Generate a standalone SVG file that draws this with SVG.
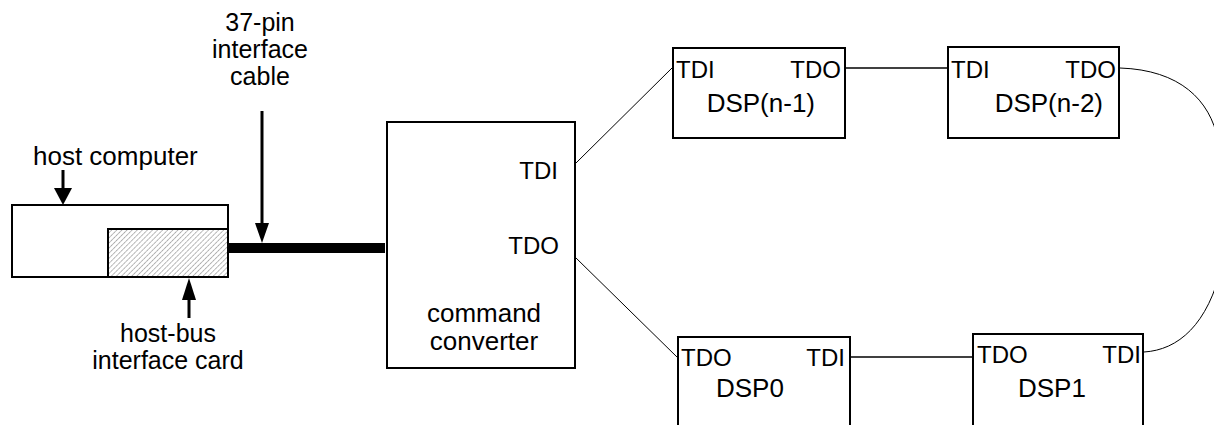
<svg xmlns="http://www.w3.org/2000/svg" width="1214" height="425" viewBox="0 0 1214 425">
  <style>
    .box { fill: #fff; stroke: #000; stroke-width: 2; }
    .lbl { font-family: "Liberation Sans", Arial, sans-serif; font-size: 25px; fill: #000; }
    .big { font-size: 26px; }
    .pin { font-family: "Liberation Sans", Arial, sans-serif; font-size: 24px; fill: #000; }
    .mid { text-anchor: middle; }
    .end { text-anchor: end; }
    .wire { fill: none; stroke: #000; stroke-width: 1; }
    .wire2 { fill: none; stroke: #000; stroke-width: 1.6; }
    .shaft { stroke: #000; stroke-width: 3; }
  </style>
  <defs>
    <pattern id="hatch" width="3.6" height="3.6" patternUnits="userSpaceOnUse" patternTransform="rotate(45)">
      <rect width="3.6" height="3.6" fill="#fff"/>
      <line x1="0" y1="0" x2="0" y2="3.6" stroke="#666" stroke-width="1" stroke-dasharray="2.4,0.6"/>
    </pattern>
  </defs>

  <!-- host computer with plug-in card -->
  <g id="host-computer">
    <rect class="box" x="12" y="205" width="216" height="72"/>
    <text class="lbl big" x="33" y="165">host computer</text>
    <line class="shaft" x1="63" y1="170" x2="63" y2="190"/>
    <polygon points="54,188 72,188 63,205" fill="#000"/>
  </g>

  <g id="host-bus-card">
    <rect x="108" y="229" width="120" height="48" fill="url(#hatch)" stroke="#000" stroke-width="2"/>
    <line class="shaft" x1="189" y1="298" x2="189" y2="318"/>
    <polygon points="182,300 196,300 189,278" fill="#000"/>
    <text class="lbl mid" x="168" y="342">host-bus</text>
    <text class="lbl mid" x="168" y="369">interface card</text>
  </g>

  <!-- 37-pin cable -->
  <g id="cable">
    <rect x="228" y="243" width="157" height="10" fill="#000"/>
    <text class="lbl mid" x="260" y="31">37-pin</text>
    <text class="lbl mid" x="260" y="58">interface</text>
    <text class="lbl mid" x="260" y="85">cable</text>
    <line class="shaft" x1="262" y1="111" x2="262" y2="226"/>
    <polygon points="255,223 269,223 262,243" fill="#000"/>
  </g>

  <g id="command-converter">
    <rect class="box" x="387" y="122" width="188" height="246"/>
    <text class="pin end" x="558" y="179">TDI</text>
    <text class="pin end" x="559" y="254">TDO</text>
    <text class="lbl big mid" x="484" y="322">command</text>
    <text class="lbl big mid" x="484" y="350">converter</text>
  </g>

  <g id="dsp-n-1">
    <rect class="box" x="673" y="48" width="172" height="90"/>
    <text class="pin" x="676" y="78">TDI</text>
    <text class="pin end" x="841" y="78">TDO</text>
    <text class="lbl big end" x="815" y="112">DSP(n-1)</text>
  </g>

  <g id="dsp-n-2">
    <rect class="box" x="948" y="47" width="171" height="91"/>
    <text class="pin" x="951" y="78">TDI</text>
    <text class="pin end" x="1116" y="78">TDO</text>
    <text class="lbl big end" x="1103" y="112">DSP(n-2)</text>
  </g>

  <g id="dsp0">
    <rect class="box" x="678" y="337" width="172" height="100"/>
    <text class="pin" x="681" y="366">TDO</text>
    <text class="pin end" x="845" y="366">TDI</text>
    <text class="lbl big" x="716" y="397">DSP0</text>
  </g>

  <g id="dsp1">
    <rect class="box" x="973" y="334" width="170" height="100"/>
    <text class="pin" x="977" y="363">TDO</text>
    <text class="pin end" x="1141" y="363">TDI</text>
    <text class="lbl big" x="1018" y="397">DSP1</text>
  </g>

  <!-- scan chain wiring -->
  <g id="connectors">
    <line class="wire" x1="576" y1="163" x2="673" y2="67"/>
    <line class="wire" x1="575" y1="257" x2="678" y2="358"/>
    <line class="wire2" x1="845" y1="68" x2="948" y2="68"/>
    <line class="wire2" x1="850" y1="357" x2="973" y2="357"/>
    <path class="wire" d="M1120,68 C1180,70 1210,100 1218,140 L1222,265 C1208,325 1178,350 1144,352"/>
  </g>
</svg>
